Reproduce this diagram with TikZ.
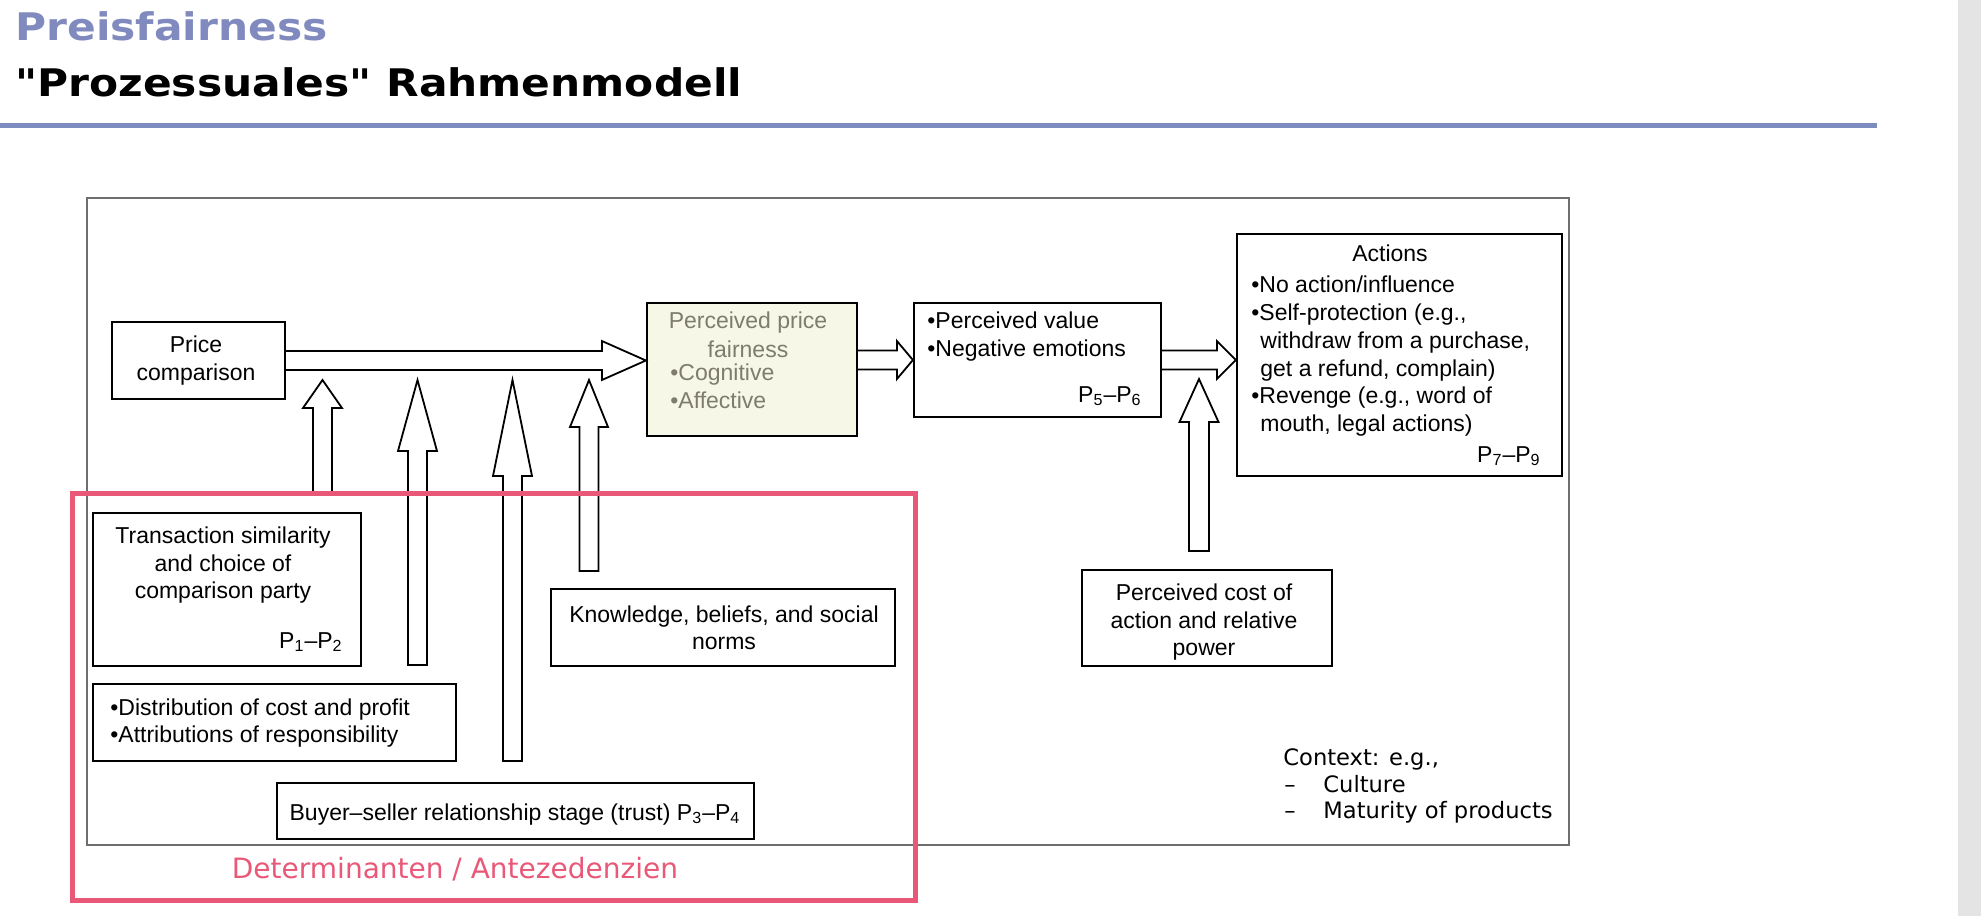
\documentclass[tikz,border=0pt]{standalone}
\usepackage{fontspec}
\setmainfont{Liberation Sans}
\newfontfamily\titlefont{DejaVu Sans}[FakeStretch=1.115]
\newfontfamily\vfont{DejaVu Sans}
\usetikzlibrary{calc}
\definecolor{titleblue}{RGB}{128,138,190}
\definecolor{rulecol}{RGB}{126,139,191}
\definecolor{pinkc}{RGB}{234,88,120}
\definecolor{ppffill}{RGB}{246,247,230}
\definecolor{ppftext}{RGB}{125,124,110}
\definecolor{framegray}{RGB}{110,110,110}
\definecolor{stripgray}{RGB}{228,228,228}
\tikzset{
  box/.style={draw=black, line width=1.1pt, inner sep=0pt, fill=white},
  txt/.style={inner sep=0pt, font=\fontsize{11.5pt}{14pt}\selectfont, anchor=base},
  ltxt/.style={txt, anchor=base west},
  rtxt/.style={txt, anchor=base east},
  ctxt/.style={inner sep=0pt, font=\vfont\fontsize{11.3pt}{14pt}\selectfont, anchor=base west},
  titletxt/.style={inner sep=0pt, anchor=base west, font=\titlefont\bfseries\fontsize{19pt}{22pt}\selectfont},
  barrow/.style={draw=black, line width=0.9pt, fill=white, line join=miter},
}
\newcommand\UpBlock[5]{%
  \draw[barrow] let \p1=(#1), \p2=(#2) in
  (\x1-#3pt,\y1) -- (\x1-#3pt,\y2-#5pt) -- (\x1-#4pt,\y2-#5pt) -- (\x1,\y2)
  -- (\x1+#4pt,\y2-#5pt) -- (\x1+#3pt,\y2-#5pt) -- (\x1+#3pt,\y1) -- cycle;}
\newcommand\RightBlock[5]{%
  \draw[barrow] let \p1=(#1), \p2=(#2) in
  (\x1,\y1+#3pt) -- (\x2-#5pt,\y1+#3pt) -- (\x2-#5pt,\y1+#4pt) -- (\x2,\y1)
  -- (\x2-#5pt,\y1-#4pt) -- (\x2-#5pt,\y1-#3pt) -- (\x1,\y1-#3pt);}
\begin{document}
\begin{tikzpicture}[x=0.5pt,y=-0.5pt]
\useasboundingbox (0,0) rectangle (1981,916);
\fill[white] (0,0) rectangle (1981,916);
\fill[stripgray] (1958,0) rectangle (1981,916);

% title
\node[titletxt, text=titleblue] (title1) at (15,40) {Preisfairness};
\node[titletxt, text=black] (title2) at (15,96) {"Prozessuales" Rahmenmodell};
\fill[rulecol] (0,123) rectangle (1877,128);

% outer frame
\draw[framegray, line width=0.7pt] (87,198) rectangle (1569,845);

% boxes
\node[box, minimum width=86.5pt, minimum height=38.5pt] (pc) at (198.5,360.5) {};
\node[box, fill=ppffill, minimum width=105pt, minimum height=66.5pt] (ppf) at (752,369.5) {};
\node[box, minimum width=123.5pt, minimum height=57pt] (pv) at (1037.5,360) {};
\node[box, minimum width=162.5pt, minimum height=121pt] (act) at (1399.5,355) {};
\node[box, minimum width=125pt, minimum height=48pt] (cost) at (1207,618) {};
\node[box, minimum width=134pt, minimum height=76.5pt] (trans) at (227,589.5) {};
\node[box, minimum width=181.5pt, minimum height=38.5pt] (dist) at (274.5,722.5) {};
\node[box, minimum width=172pt, minimum height=38.5pt] (know) at (723,627.5) {};
\node[box, minimum width=238.5pt, minimum height=28pt] (buyer) at (515.5,811) {};

% free ends of the upward arrows
\coordinate (a1b) at (322.5,493);  \coordinate (a1t) at (322.5,380);
\coordinate (a2b) at (417.5,665);  \coordinate (a2t) at (417.5,380);
\coordinate (a3b) at (512.5,761);  \coordinate (a3t) at (512.5,380);
\coordinate (a4b) at (589,571);    \coordinate (a4t) at (589,380);
\coordinate (a5b) at (1199,551);   \coordinate (a5t) at (1199,379);

% block arrows
\RightBlock{pc.east}{ppf.west}{4.75}{9.75}{22}
\RightBlock{ppf.east |- pv.west}{pv.west}{4.75}{9.5}{8}
\RightBlock{pv.east}{act.west |- pv.east}{4.75}{9.5}{9.5}
\UpBlock{a1b}{a1t}{4.75}{9.75}{14}
\UpBlock{a2b}{a2t}{4.75}{9.75}{35.5}
\UpBlock{a3b}{a3t}{4.75}{9.75}{48}
\UpBlock{a4b}{a4t}{4.75}{9.5}{23.5}
\UpBlock{a5b}{a5t}{5}{9.75}{21.5}

% texts
\node[txt] (pc1) at (196,352) {Price};
\node[txt] (pc2) at (196,380) {comparison};

\node[txt, text=ppftext] (ppf1) at (748,328) {Perceived price};
\node[txt, text=ppftext] (ppf2) at (748,357) {fairness};
\node[ltxt, text=ppftext] (ppf3) at (670,380) {•Cognitive};
\node[ltxt, text=ppftext] (ppf4) at (670,408) {•Affective};

\node[ltxt] (pv1) at (927,328) {•Perceived value};
\node[ltxt] (pv2) at (927,356) {•Negative emotions};
\node[rtxt] (pv3) at (1142,402) {P\textsubscript{5}–P\textsubscript{6}};

\node[txt] (act0) at (1390,261) {Actions};
\node[ltxt] (act1) at (1251,292) {•No action/influence};
\node[ltxt] (act2) at (1251,320) {•Self-protection (e.g.,};
\node[ltxt] (act3) at (1260,348) {withdraw from a purchase,};
\node[ltxt] (act4) at (1260,376) {get a refund, complain)};
\node[ltxt] (act5) at (1251,403) {•Revenge (e.g., word of};
\node[ltxt] (act6) at (1260,431) {mouth, legal actions)};
\node[rtxt] (act7) at (1541,462) {P\textsubscript{7}–P\textsubscript{9}};

\node[txt] (tr1) at (223,543) {Transaction similarity};
\node[txt] (tr2) at (223,571) {and choice of};
\node[txt] (tr3) at (223,598) {comparison party};
\node[rtxt] (tr4) at (343,648) {P\textsubscript{1}–P\textsubscript{2}};

\node[ltxt] (di1) at (110,715) {•Distribution of cost and profit};
\node[ltxt] (di2) at (110,742) {•Attributions of responsibility};

\node[txt] (kn1) at (724,622) {Knowledge, beliefs, and social};
\node[txt] (kn2) at (724,649) {norms};

\node[txt] (bu1) at (515,820) {Buyer–seller relationship stage (trust) P\textsubscript{3}–P\textsubscript{4}};

\node[txt] (co1) at (1204,600) {Perceived cost of};
\node[txt] (co2) at (1204,628) {action and relative};
\node[txt] (co3) at (1204,655) {power};

\node[ctxt] (cx1) at (1283,765) {Context: e.g.,};
\node[ctxt] (cx2) at (1284,792) {–};
\node[ctxt] (cx3) at (1323,792) {Culture};
\node[ctxt] (cx4) at (1284,818) {–};
\node[ctxt] (cx5) at (1323,818) {Maturity of products};

% determinants frame
\draw[pinkc, line width=2.5pt] (72,493.5) rectangle (915,900);
\node[inner sep=0pt, anchor=base, text=pinkc, font=\vfont\fontsize{14pt}{17pt}\selectfont] (det) at (455,878) {Determinanten / Antezedenzien};
\end{tikzpicture}
\end{document}
